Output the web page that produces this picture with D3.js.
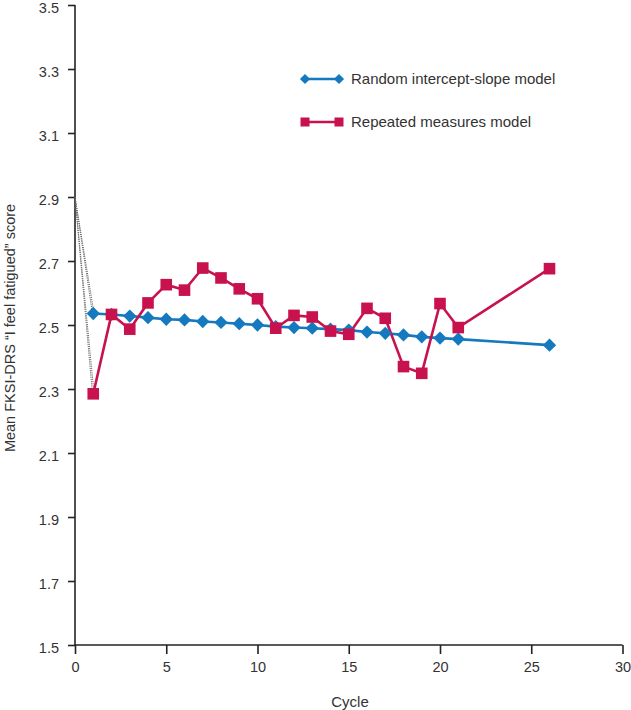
<!DOCTYPE html>
<html><head><meta charset="utf-8">
<script src="https://cdn.jsdelivr.net/npm/d3@7"></script>
<style>body{margin:0;background:#fff}svg{display:block}text{font-family:"Liberation Sans",Arial,sans-serif;fill:#333}</style>
</head><body>
<svg id="c" width="631" height="710"></svg>
<script>
const baseline = 2.9;
const blueCycles = [1,2,3,4,5,6,7,8,9,10,11,12,13,14,15,16,17,18,19,20,21,26];
const blueValues = [2.536,2.533,2.528,2.523,2.518,2.516,2.511,2.508,2.504,2.500,2.495,2.492,2.490,2.487,2.484,2.478,2.474,2.469,2.463,2.459,2.456,2.437];
const redCycles = [1,2,3,4,5,6,7,8,9,10,11,12,13,14,15,16,17,18,19,20,21,26];
const redValues = [2.285,2.533,2.487,2.569,2.626,2.609,2.678,2.647,2.613,2.582,2.490,2.530,2.525,2.481,2.471,2.552,2.521,2.370,2.349,2.567,2.492,2.676];
const xTicks = [0,5,10,15,20,25,30];
const yTicks = [1.5,1.7,1.9,2.1,2.3,2.5,2.7,2.9,3.1,3.3,3.5];
const seriesNames = ["Random intercept-slope model","Repeated measures model"];
const blueColor = "#1579c0", redColor = "#c8124e";

const svg = d3.select("#c");
const x = d3.scaleLinear().domain([0,30]).range([75,622.5]);
const y = d3.scaleLinear().domain([1.5,3.5]).range([645,5]);

const xa = svg.append("g").attr("transform","translate(0,645)")
  .call(d3.axisBottom(x).tickValues(xTicks).tickSize(9).tickPadding(8).tickFormat(d3.format("d")));
const ya = svg.append("g").attr("transform","translate(75,0)")
  .call(d3.axisLeft(y).tickValues(yTicks).tickSize(7).tickPadding(9).tickFormat(d3.format(".1f")));
[xa,ya].forEach(a=>{
  a.select(".domain").attr("stroke","#222").attr("stroke-width",1.6);
  a.selectAll(".tick line").attr("stroke","#222").attr("stroke-width",1.6);
  a.selectAll(".tick text").attr("font-size",14.5).attr("fill","#333").style("font-family","Liberation Sans, Arial, sans-serif");
});
ya.selectAll(".tick text").attr("dy","0.55em");
xa.select(".domain").attr("d",`M${x(0)},0H${x(30)}`);
ya.select(".domain").attr("d",`M0,${y(3.5)}V${y(1.5)}`);

svg.append("text").attr("x",350).attr("y",707).attr("text-anchor","middle").attr("font-size",15).text("Cycle");
svg.append("text").attr("transform","translate(15,328) rotate(-90)").attr("text-anchor","middle").attr("font-size",14.5)
  .text("Mean FKSI-DRS \u201cI feel fatigued\u201d score");

// dotted baseline connectors
[[blueCycles[0],blueValues[0]],[redCycles[0],redValues[0]]].forEach(([c,v])=>{
  [0,1.6].forEach(off=>{
    svg.append("line").attr("x1",x(0)).attr("y1",y(baseline)).attr("x2",x(c)+off-0.8).attr("y2",y(v))
      .attr("stroke","#666").attr("stroke-width",1).attr("stroke-dasharray","1.2,1");
  });
});

const line = d3.line().x(d=>x(d[0])).y(d=>y(d[1]));
const blue = blueCycles.map((c,i)=>[c,blueValues[i]]);
const red = redCycles.map((c,i)=>[c,redValues[i]]);

svg.append("path").datum(blue).attr("d",line).attr("fill","none").attr("stroke",blueColor).attr("stroke-width",2.6);
svg.append("path").datum(red).attr("d",line).attr("fill","none").attr("stroke",redColor).attr("stroke-width",2.6);

svg.selectAll(".bd").data(blue).enter().append("rect")
  .attr("x",-4.7).attr("y",-4.7).attr("width",9.4).attr("height",9.4)
  .attr("transform",d=>`translate(${x(d[0])},${y(d[1])}) rotate(45)`).attr("fill",blueColor);
svg.selectAll(".rs").data(red).enter().append("rect")
  .attr("x",d=>x(d[0])-5.8).attr("y",d=>y(d[1])-5.8).attr("width",11.6).attr("height",11.6).attr("fill",redColor);

// legend
const leg = [[79,blueColor,"d"],[122,redColor,"s"]];
leg.forEach(([ly,col,shape],i)=>{
  const g = svg.append("g");
  g.append("line").attr("x1",305).attr("x2",339).attr("y1",ly).attr("y2",ly).attr("stroke",col).attr("stroke-width",2.4);
  [305,339].forEach(px=>{
    if(shape==="d") g.append("rect").attr("x",-3.6).attr("y",-3.6).attr("width",7.2).attr("height",7.2)
      .attr("transform",`translate(${px},${ly}) rotate(45)`).attr("fill",col);
    else g.append("rect").attr("x",px-4.5).attr("y",ly-4.5).attr("width",9).attr("height",9).attr("fill",col);
  });
  g.append("text").attr("x",351).attr("y",ly+5).attr("font-size",15).text(seriesNames[i]);
});
</script>
</body></html>
